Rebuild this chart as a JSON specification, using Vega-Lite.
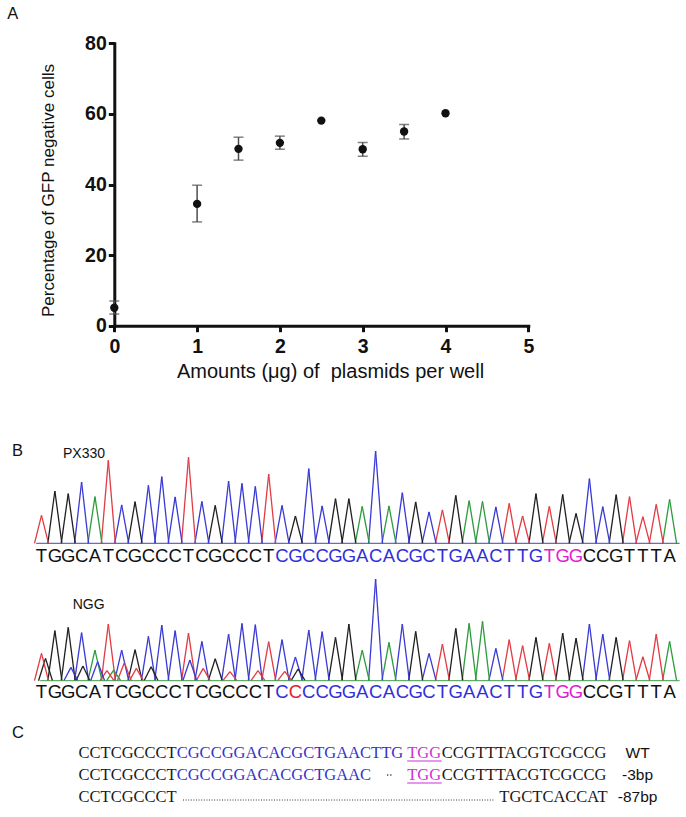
{
  "$schema": "https://vega.github.io/schema/vega-lite/v6.json",
  "width": 686,
  "height": 817,
  "autosize": {"type": "none"},
  "padding": 0,
  "background": "white",
  "config": {"view": {"stroke": null}, "font": "Liberation Sans"},
  "datasets": {
    "gfp": [
      {"dose": 0, "pct": 5.1, "lo": 3.3, "hi": 7.0},
      {"dose": 1, "pct": 34.5, "lo": 29.4, "hi": 39.8},
      {"dose": 1.5, "pct": 50.1, "lo": 46.9, "hi": 53.4},
      {"dose": 2, "pct": 51.8, "lo": 50.0, "hi": 53.7},
      {"dose": 2.5, "pct": 58.1},
      {"dose": 3, "pct": 50.0, "lo": 48.0, "hi": 51.9},
      {"dose": 3.5, "pct": 55.0, "lo": 52.9, "hi": 57.0},
      {"dose": 4, "pct": 60.2}
    ],
    "labels": [
      {"k": "A", "txt": "A"},
      {"k": "B", "txt": "B"},
      {"k": "PX330", "txt": "PX330"},
      {"k": "NGG", "txt": "NGG"},
      {"k": "C", "txt": "C"}
    ],
    "peaks": [
      {"t":"P","i":1,"b":"T","h":84,"s":"n"},{"t":"P","i":2,"b":"G","h":157,"s":"n"},{"t":"P","i":3,"b":"G","h":149,"s":"n"},{"t":"P","i":4,"b":"C","h":184,"s":"n"},
      {"t":"P","i":5,"b":"A","h":140,"s":"n"},{"t":"P","i":6,"b":"T","h":249,"s":"n"},{"t":"P","i":7,"b":"C","h":115,"s":"n"},{"t":"P","i":8,"b":"G","h":125,"s":"n"},
      {"t":"P","i":9,"b":"C","h":174,"s":"n"},{"t":"P","i":10,"b":"C","h":200,"s":"n"},{"t":"P","i":11,"b":"C","h":139,"s":"n"},{"t":"P","i":12,"b":"T","h":258,"s":"n"},
      {"t":"P","i":13,"b":"C","h":126,"s":"n"},{"t":"P","i":14,"b":"G","h":114,"s":"n"},{"t":"P","i":15,"b":"C","h":187,"s":"n"},{"t":"P","i":16,"b":"C","h":180,"s":"n"},
      {"t":"P","i":17,"b":"C","h":171,"s":"n"},{"t":"P","i":18,"b":"T","h":208,"s":"n"},{"t":"P","i":19,"b":"C","h":114,"s":"g"},{"t":"P","i":20,"b":"G","h":82,"s":"g"},
      {"t":"P","i":21,"b":"C","h":224,"s":"g"},{"t":"P","i":22,"b":"C","h":112,"s":"g"},{"t":"P","i":23,"b":"G","h":134,"s":"g"},{"t":"P","i":24,"b":"G","h":134,"s":"g"},
      {"t":"P","i":25,"b":"A","h":111,"s":"g"},{"t":"P","i":26,"b":"C","h":277,"s":"g"},{"t":"P","i":27,"b":"A","h":112,"s":"g"},{"t":"P","i":28,"b":"C","h":152,"s":"g"},
      {"t":"P","i":29,"b":"G","h":124,"s":"g"},{"t":"P","i":30,"b":"C","h":94,"s":"g"},{"t":"P","i":31,"b":"T","h":100,"s":"g"},{"t":"P","i":32,"b":"G","h":144,"s":"g"},
      {"t":"P","i":33,"b":"A","h":128,"s":"g"},{"t":"P","i":34,"b":"A","h":126,"s":"g"},{"t":"P","i":35,"b":"C","h":109,"s":"g"},{"t":"P","i":36,"b":"T","h":120,"s":"g"},
      {"t":"P","i":37,"b":"T","h":82,"s":"g"},{"t":"P","i":38,"b":"G","h":149,"s":"g"},{"t":"P","i":39,"b":"T","h":111,"s":"p"},{"t":"P","i":40,"b":"G","h":147,"s":"p"},
      {"t":"P","i":41,"b":"G","h":90,"s":"p"},{"t":"P","i":42,"b":"C","h":194,"s":"n"},{"t":"P","i":43,"b":"C","h":110,"s":"n"},{"t":"P","i":44,"b":"G","h":146,"s":"n"},
      {"t":"P","i":45,"b":"T","h":140,"s":"n"},{"t":"P","i":46,"b":"T","h":80,"s":"n"},{"t":"P","i":47,"b":"T","h":117,"s":"n"},{"t":"P","i":48,"b":"A","h":132,"s":"n"},
      {"t":"N","i":1,"b":"T","h":82,"s":"n"},{"t":"N","i":2,"b":"G","h":150,"s":"n"},{"t":"N","i":3,"b":"G","h":160,"s":"n"},{"t":"N","i":4,"b":"C","h":144,"s":"n"},
      {"t":"N","i":5,"b":"A","h":92,"s":"n"},{"t":"N","i":6,"b":"T","h":170,"s":"n"},{"t":"N","i":7,"b":"C","h":92,"s":"n"},{"t":"N","i":8,"b":"G","h":93,"s":"n"},
      {"t":"N","i":9,"b":"C","h":133,"s":"n"},{"t":"N","i":10,"b":"C","h":167,"s":"n"},{"t":"N","i":11,"b":"C","h":150,"s":"n"},{"t":"N","i":12,"b":"T","h":143,"s":"n"},
      {"t":"N","i":13,"b":"C","h":118,"s":"n"},{"t":"N","i":14,"b":"G","h":66,"s":"n"},{"t":"N","i":15,"b":"C","h":140,"s":"n"},{"t":"N","i":16,"b":"C","h":172,"s":"n"},
      {"t":"N","i":17,"b":"C","h":168,"s":"n"},{"t":"N","i":18,"b":"T","h":117,"s":"n"},{"t":"N","i":19,"b":"C","h":123,"s":"g"},{"t":"N","i":20,"b":"C","h":71,"s":"m"},
      {"t":"N","i":21,"b":"C","h":152,"s":"g"},{"t":"N","i":22,"b":"C","h":147,"s":"g"},{"t":"N","i":23,"b":"G","h":130,"s":"g"},{"t":"N","i":24,"b":"G","h":170,"s":"g"},
      {"t":"N","i":25,"b":"A","h":92,"s":"g"},{"t":"N","i":26,"b":"C","h":305,"s":"g"},{"t":"N","i":27,"b":"A","h":115,"s":"g"},{"t":"N","i":28,"b":"C","h":170,"s":"g"},
      {"t":"N","i":29,"b":"G","h":148,"s":"g"},{"t":"N","i":30,"b":"C","h":82,"s":"g"},{"t":"N","i":31,"b":"T","h":110,"s":"g"},{"t":"N","i":32,"b":"G","h":157,"s":"g"},
      {"t":"N","i":33,"b":"A","h":172,"s":"g"},{"t":"N","i":34,"b":"A","h":178,"s":"g"},{"t":"N","i":35,"b":"C","h":97,"s":"g"},{"t":"N","i":36,"b":"T","h":123,"s":"g"},
      {"t":"N","i":37,"b":"T","h":105,"s":"g"},{"t":"N","i":38,"b":"G","h":130,"s":"g"},{"t":"N","i":39,"b":"T","h":112,"s":"p"},{"t":"N","i":40,"b":"G","h":143,"s":"p"},
      {"t":"N","i":41,"b":"G","h":128,"s":"p"},{"t":"N","i":42,"b":"C","h":170,"s":"n"},{"t":"N","i":43,"b":"C","h":140,"s":"n"},{"t":"N","i":44,"b":"G","h":130,"s":"n"},
      {"t":"N","i":45,"b":"T","h":120,"s":"n"},{"t":"N","i":46,"b":"T","h":72,"s":"n"},{"t":"N","i":47,"b":"T","h":140,"s":"n"},{"t":"N","i":48,"b":"A","h":118,"s":"n"},
      {"t":"N","i":1.3,"b":"G","h":67,"s":"x"},{"t":"N","i":3.2,"b":"C","h":40,"s":"x"},{"t":"N","i":4.1,"b":"G","h":44,"s":"x"},{"t":"N","i":5.2,"b":"C","h":57,"s":"x"},
      {"t":"N","i":5.9,"b":"T","h":30,"s":"x"},{"t":"N","i":6.4,"b":"A","h":32,"s":"x"},{"t":"N","i":7.2,"b":"T","h":54,"s":"x"},{"t":"N","i":8.1,"b":"T","h":37,"s":"x"},
      {"t":"N","i":9.2,"b":"G","h":42,"s":"x"},{"t":"N","i":12.1,"b":"C","h":62,"s":"x"},{"t":"N","i":13.1,"b":"T","h":37,"s":"x"},{"t":"N","i":15.1,"b":"T","h":27,"s":"x"},
      {"t":"N","i":17.2,"b":"T","h":30,"s":"x"},{"t":"N","i":19.2,"b":"T","h":28,"s":"x"},{"t":"N","i":20.2,"b":"G","h":35,"s":"x"}
    ],
    "seqC": [
      {"r":1,"s":0,"e":9,"txt":"CCTCGCCCT","c":"n"},
      {"r":1,"s":9,"e":29,"txt":"CGCCGGACACGCTGAACTTG","c":"g"},
      {"r":1,"s":29,"e":32,"txt":"TGG","c":"p"},
      {"r":1,"s":32,"e":47,"txt":"CCGTTTACGTCGCCG","c":"n"},
      {"r":2,"s":0,"e":9,"txt":"CCTCGCCCT","c":"n"},
      {"r":2,"s":9,"e":26,"txt":"CGCCGGACACGCTGAAC","c":"g"},
      {"r":2,"s":29,"e":32,"txt":"TGG","c":"p"},
      {"r":2,"s":32,"e":47,"txt":"CCGTTTACGTCGCCG","c":"n"},
      {"r":3,"s":0,"e":9,"txt":"CCTCGCCCT","c":"n"},
      {"r":3,"s":37,"e":47,"txt":"TGCTCACCAT","c":"n"}
    ],
    "gaps": [
      {"r":2,"s":26,"e":29},
      {"r":3,"s":9,"e":37}
    ],
    "tags": [
      {"r":1,"tag":"WT"},
      {"r":2,"tag":"-3bp"},
      {"r":3,"tag":"-87bp"}
    ]
  },
  "layer": [
    {
      "data": {"name": "gfp"},
      "layer": [
        {
          "mark": {"type": "rule", "color": "#4d4d4d", "strokeWidth": 1.5},
          "encoding": {
            "x": {
              "field": "dose", "type": "quantitative",
              "scale": {"domain": [0, 5], "range": [114.3, 528.3], "nice": false, "zero": false},
              "axis": {
                "orient": "bottom", "offset": -491.3, "values": [0, 1, 2, 3, 4, 5], "format": "d",
                "title": "Amounts (μg) of \u00a0plasmids per well", "titleX": 330, "titlePadding": 5,
                "titleFont": "Liberation Sans", "titleFontSize": 20, "titleFontWeight": "normal", "titleColor": "#111111",
                "grid": false, "domainColor": "#111111", "domainWidth": 3, "domainCap": "square",
                "tickColor": "#111111", "tickWidth": 3, "tickSize": 6,
                "labelFont": "Liberation Sans", "labelFontSize": 19.5, "labelFontWeight": "bold", "labelColor": "#111111",
                "labelPadding": 6, "labelFlush": false, "labelOverlap": false
              }
            },
            "y": {
              "field": "lo", "type": "quantitative",
              "scale": {"domain": [0, 80], "range": [325.7, 43.3], "nice": false, "zero": false},
              "axis": {
                "orient": "left", "offset": -114.3, "values": [0, 20, 40, 60, 80], "format": "d",
                "title": "Percentage of GFP negative cells", "titleY": 190, "titlePadding": 27,
                "titleFont": "Liberation Sans", "titleFontSize": 17, "titleFontWeight": "normal", "titleColor": "#111111",
                "grid": false, "domainColor": "#111111", "domainWidth": 3, "domainCap": "square",
                "tickColor": "#111111", "tickWidth": 3, "tickSize": 6,
                "labelFont": "Liberation Sans", "labelFontSize": 19.5, "labelFontWeight": "bold", "labelColor": "#111111",
                "labelPadding": 2, "labelOverlap": false
              }
            },
            "y2": {"field": "hi"}
          }
        },
        {
          "mark": {"type": "tick", "orient": "horizontal", "color": "#4d4d4d", "size": 10, "thickness": 1.5},
          "encoding": {
            "x": {"field": "dose", "type": "quantitative"},
            "y": {"field": "lo", "type": "quantitative"}
          }
        },
        {
          "mark": {"type": "tick", "orient": "horizontal", "color": "#4d4d4d", "size": 10, "thickness": 1.5},
          "encoding": {
            "x": {"field": "dose", "type": "quantitative"},
            "y": {"field": "hi", "type": "quantitative"}
          }
        },
        {
          "mark": {"type": "point", "filled": true, "color": "#111111", "size": 70, "opacity": 1},
          "encoding": {
            "x": {"field": "dose", "type": "quantitative"},
            "y": {"field": "pct", "type": "quantitative"}
          }
        },
        {
          "data": {"name": "labels"},
          "transform": [{"filter": "datum.k === 'A'"}],
          "mark": {"type": "text", "align": "left", "baseline": "middle", "fontSize": 16.5, "color": "#111111", "font": "Liberation Sans"},
          "encoding": {
            "x": {"datum": -1.292, "type": "quantitative"},
            "y": {"datum": 88.24, "type": "quantitative"},
            "text": {"field": "txt"}
          }
        }
      ]
    },
    {
      "data": {"name": "peaks"},
      "transform": [{"filter": "datum.t === 'P'"}],
      "layer": [
        {
          "mark": {"type": "rule", "x2Offset": -7, "strokeWidth": 1.3},
          "encoding": {
            "x": {"field": "i", "type": "quantitative", "scale": {"domain": [1, 48], "range": [41.5, 669.6], "nice": false, "zero": false}, "axis": null},
            "y": {"field": "h", "type": "quantitative", "scale": {"domain": [0, 300], "range": [543.3, 443.3], "nice": false, "zero": false}, "axis": null},
            "x2": {"field": "i"},
            "y2": {"datum": 0},
            "color": {"field": "b", "type": "nominal", "scale": {"domain": ["A", "C", "G", "T"], "range": ["#2e9b3e", "#3a3ad4", "#202020", "#e23b44"]}, "legend": null}
          }
        },
        {
          "mark": {"type": "rule", "x2Offset": 7, "strokeWidth": 1.3},
          "encoding": {
            "x": {"field": "i", "type": "quantitative", "axis": null},
            "y": {"field": "h", "type": "quantitative", "axis": null},
            "x2": {"field": "i"},
            "y2": {"datum": 0},
            "color": {"field": "b", "type": "nominal", "scale": {"domain": ["A", "C", "G", "T"], "range": ["#2e9b3e", "#3a3ad4", "#202020", "#e23b44"]}, "legend": null}
          }
        },
        {
          "data": {"name": "labels"},
          "transform": [{"filter": "datum.k === 'PX330'"}],
          "mark": {"type": "rule", "color": "#4444c4", "strokeWidth": 1},
          "encoding": {
            "x": {"datum": 0.6, "type": "quantitative", "axis": null},
            "x2": {"datum": 48.75},
            "y": {"datum": 0, "type": "quantitative", "axis": null}
          }
        },
        {
          "transform": [{"filter": "datum.s !== 'x'"}],
          "mark": {"type": "text", "align": "center", "baseline": "middle", "fontSize": 18.5, "font": "Liberation Sans"},
          "encoding": {
            "x": {"field": "i", "type": "quantitative", "axis": null},
            "y": {"datum": -37, "type": "quantitative", "axis": null},
            "text": {"field": "b"},
            "color": {"field": "s", "type": "nominal", "scale": {"domain": ["n", "g", "p", "m"], "range": ["#111111", "#3030d8", "#e020d0", "#e5202a"]}, "legend": null}
          }
        },
        {
          "data": {"name": "labels"},
          "transform": [{"filter": "datum.k === 'B'"}],
          "mark": {"type": "text", "align": "left", "baseline": "middle", "fontSize": 16.5, "color": "#111111", "font": "Liberation Sans"},
          "encoding": {
            "x": {"datum": -1.207, "type": "quantitative", "axis": null},
            "y": {"datum": 277, "type": "quantitative", "axis": null},
            "text": {"field": "txt"}
          }
        },
        {
          "data": {"name": "labels"},
          "transform": [{"filter": "datum.k === 'PX330'"}],
          "mark": {"type": "text", "align": "left", "baseline": "middle", "fontSize": 14, "color": "#111111", "font": "Liberation Sans"},
          "encoding": {
            "x": {"datum": 2.61, "type": "quantitative", "axis": null},
            "y": {"datum": 268, "type": "quantitative", "axis": null},
            "text": {"field": "txt"}
          }
        }
      ],
      "resolve": {"scale": {"color": "independent"}}
    },
    {
      "data": {"name": "peaks"},
      "transform": [{"filter": "datum.t === 'N'"}],
      "layer": [
        {
          "mark": {"type": "rule", "x2Offset": -7, "strokeWidth": 1.3},
          "encoding": {
            "x": {"field": "i", "type": "quantitative", "scale": {"domain": [1, 48], "range": [41.5, 669.6], "nice": false, "zero": false}, "axis": null},
            "y": {"field": "h", "type": "quantitative", "scale": {"domain": [0, 300], "range": [680.7, 580.7], "nice": false, "zero": false}, "axis": null},
            "x2": {"field": "i"},
            "y2": {"datum": 0},
            "color": {"field": "b", "type": "nominal", "scale": {"domain": ["A", "C", "G", "T"], "range": ["#2e9b3e", "#3a3ad4", "#202020", "#e23b44"]}, "legend": null}
          }
        },
        {
          "mark": {"type": "rule", "x2Offset": 7, "strokeWidth": 1.3},
          "encoding": {
            "x": {"field": "i", "type": "quantitative", "axis": null},
            "y": {"field": "h", "type": "quantitative", "axis": null},
            "x2": {"field": "i"},
            "y2": {"datum": 0},
            "color": {"field": "b", "type": "nominal", "scale": {"domain": ["A", "C", "G", "T"], "range": ["#2e9b3e", "#3a3ad4", "#202020", "#e23b44"]}, "legend": null}
          }
        },
        {
          "data": {"name": "labels"},
          "transform": [{"filter": "datum.k === 'NGG'"}],
          "mark": {"type": "rule", "color": "#3f9a4a", "strokeWidth": 1},
          "encoding": {
            "x": {"datum": 0.9, "type": "quantitative", "axis": null},
            "x2": {"datum": 48.75},
            "y": {"datum": 0, "type": "quantitative", "axis": null}
          }
        },
        {
          "transform": [{"filter": "datum.s !== 'x'"}],
          "mark": {"type": "text", "align": "center", "baseline": "middle", "fontSize": 18.5, "font": "Liberation Sans"},
          "encoding": {
            "x": {"field": "i", "type": "quantitative", "axis": null},
            "y": {"datum": -35, "type": "quantitative", "axis": null},
            "text": {"field": "b"},
            "color": {"field": "s", "type": "nominal", "scale": {"domain": ["n", "g", "p", "m"], "range": ["#111111", "#3030d8", "#e020d0", "#e5202a"]}, "legend": null}
          }
        },
        {
          "data": {"name": "labels"},
          "transform": [{"filter": "datum.k === 'NGG'"}],
          "mark": {"type": "text", "align": "left", "baseline": "middle", "fontSize": 14, "color": "#111111", "font": "Liberation Sans"},
          "encoding": {
            "x": {"datum": 3.33, "type": "quantitative", "axis": null},
            "y": {"datum": 227, "type": "quantitative", "axis": null},
            "text": {"field": "txt"}
          }
        }
      ],
      "resolve": {"scale": {"color": "independent"}}
    },
    {
      "data": {"name": "seqC"},
      "layer": [
        {
          "transform": [{"filter": "datum.s === 0"}],
          "mark": {"type": "text", "align": "right", "baseline": "middle", "font": "Liberation Serif", "fontSize": 16.5},
          "encoding": {
            "x": {"field": "e", "type": "quantitative", "scale": {"domain": [9, 32], "range": [176.7, 441.7], "nice": false, "zero": false}, "axis": null},
            "y": {"field": "r", "type": "quantitative", "scale": {"domain": [1, 3], "range": [753, 797], "nice": false, "zero": false}, "axis": null},
            "text": {"field": "txt"},
            "color": {"field": "c", "type": "nominal", "scale": {"domain": ["n", "g", "p"], "range": ["#1a1a1a", "#3434c8", "#d030d4"]}, "legend": null}
          }
        },
        {
          "transform": [{"filter": "datum.s > 0"}],
          "mark": {"type": "text", "align": "left", "baseline": "middle", "font": "Liberation Serif", "fontSize": 16.5},
          "encoding": {
            "x": {"field": "s", "type": "quantitative", "axis": null},
            "y": {"field": "r", "type": "quantitative", "axis": null},
            "text": {"field": "txt"},
            "color": {"field": "c", "type": "nominal", "scale": {"domain": ["n", "g", "p"], "range": ["#1a1a1a", "#3434c8", "#d030d4"]}, "legend": null}
          }
        },
        {
          "transform": [{"filter": "datum.c === 'p'"}],
          "mark": {"type": "rule", "yOffset": 8, "strokeWidth": 1.2, "color": "#d030d4"},
          "encoding": {
            "x": {"field": "s", "type": "quantitative", "axis": null},
            "x2": {"field": "e"},
            "y": {"field": "r", "type": "quantitative", "axis": null}
          }
        },
        {
          "data": {"name": "gaps"},
          "transform": [{"filter": "datum.r === 2"}],
          "mark": {"type": "rule", "xOffset": 14.5, "x2Offset": -13.9, "strokeDash": [1.2, 2], "strokeWidth": 1.3, "color": "#333366"},
          "encoding": {
            "x": {"field": "s", "type": "quantitative", "axis": null},
            "x2": {"field": "e"},
            "y": {"field": "r", "type": "quantitative", "axis": null}
          }
        },
        {
          "data": {"name": "gaps"},
          "transform": [{"filter": "datum.r === 3"}],
          "mark": {"type": "rule", "xOffset": 6.3, "x2Offset": -5.3, "yOffset": 3, "strokeDash": [1, 1.6], "strokeWidth": 1, "color": "#333333"},
          "encoding": {
            "x": {"field": "s", "type": "quantitative", "axis": null},
            "x2": {"field": "e"},
            "y": {"field": "r", "type": "quantitative", "axis": null}
          }
        },
        {
          "data": {"name": "tags"},
          "mark": {"type": "text", "align": "center", "baseline": "middle", "fontSize": 15.5, "font": "Liberation Sans", "color": "#111111"},
          "encoding": {
            "x": {"datum": 49, "type": "quantitative", "axis": null},
            "y": {"field": "r", "type": "quantitative", "axis": null},
            "text": {"field": "tag"}
          }
        },
        {
          "data": {"name": "labels"},
          "transform": [{"filter": "datum.k === 'C'"}],
          "mark": {"type": "text", "align": "left", "baseline": "middle", "fontSize": 16.5, "color": "#111111", "font": "Liberation Sans"},
          "encoding": {
            "x": {"datum": -5.3, "type": "quantitative", "axis": null},
            "y": {"datum": 0.07, "type": "quantitative", "axis": null},
            "text": {"field": "txt"}
          }
        }
      ],
      "resolve": {"scale": {"color": "independent"}}
    }
  ],
  "resolve": {
    "scale": {"x": "independent", "y": "independent", "color": "independent"},
    "axis": {"x": "independent", "y": "independent"}
  }
}
